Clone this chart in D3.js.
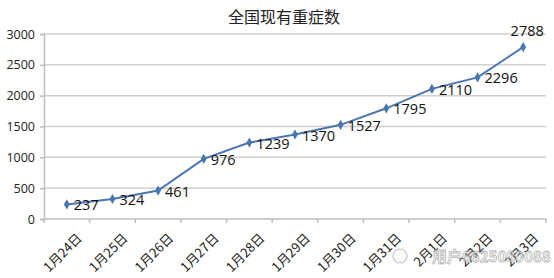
<!DOCTYPE html>
<html>
<head>
<meta charset="utf-8">
<script src="https://cdn.jsdelivr.net/npm/d3@7"></script>
<style>
  body { margin: 0; background: #fff; }
  svg { display: block; }
</style>
</head>
<body>
<div id="chart"></div>
<script>
var width = 554,
    height = 278;

var dates = ["1月24日","1月25日","1月26日","1月27日","1月28日","1月29日","1月30日","1月31日","2月1日","2月2日","2月3日"];
var severe = [237, 324, 461, 976, 1239, 1370, 1527, 1795, 2110, 2296, 2788];
var yTicks = [0, 500, 1000, 1500, 2000, 2500, 3000];

var margin = {top: 34, right: 8, bottom: 59, left: 44};

var svg = d3.select("#chart").append("svg")
    .attr("width", width)
    .attr("height", height);

var x = d3.scaleBand()
    .domain(dates)
    .range([margin.left, width - margin.right]);

var y = d3.scaleLinear()
    .domain([0, 3000])
    .range([height - margin.bottom, margin.top]);

// title
svg.append("text")
    .attr("x", 284)
    .attr("y", 23)
    .attr("text-anchor", "middle")
    .style("font-family", "'Noto Sans CJK SC', sans-serif")
    .style("font-size", "16px")
    .style("fill", "#222")
    .text("全国现有重症数");

// gridlines
svg.append("g")
  .selectAll("line")
  .data(yTicks.filter(d => d > 0))
  .enter().append("line")
    .attr("x1", margin.left)
    .attr("x2", width - margin.right)
    .attr("y1", d => y(d))
    .attr("y2", d => y(d))
    .style("stroke", "#cfcfcf")
    .style("stroke-width", 1.5);

// y axis
var yAxis = svg.append("g")
    .attr("transform", "translate(" + margin.left + ",0)")
    .call(d3.axisLeft(y).tickValues(yTicks).tickFormat(d3.format("d")).tickSize(4).tickPadding(5));
yAxis.selectAll("text")
    .style("font-family", "'Open Sans', 'DejaVu Sans', sans-serif")
    .style("font-size", "12.5px")
    .style("fill", "#222");
yAxis.selectAll("line, path").style("stroke", "#bdbdbd").style("stroke-width", 1.5);

// x axis, ticks at category boundaries
var xAxis = svg.append("g")
    .attr("transform", "translate(0," + y(0) + ")");
xAxis.append("line")
    .attr("x1", margin.left)
    .attr("x2", width - margin.right)
    .style("stroke", "#bdbdbd")
    .style("stroke-width", 1.5);
xAxis.selectAll(".tk")
  .data(dates.concat(["end"]))
  .enter().append("line")
    .attr("class", "tk")
    .attr("x1", (d, i) => margin.left + i * x.step())
    .attr("x2", (d, i) => margin.left + i * x.step())
    .attr("y1", 0)
    .attr("y2", 4)
    .style("stroke", "#bdbdbd")
    .style("stroke-width", 1.5);
xAxis.selectAll(".lbl")
  .data(dates)
  .enter().append("text")
    .attr("class", "lbl")
    .attr("text-anchor", "end")
    .attr("transform", d => "translate(" + (x(d) + x.bandwidth() / 2 + 16) + ",20) rotate(-45)")
    .style("font-family", "'Noto Sans CJK SC', sans-serif")
    .style("font-size", "13px")
    .style("fill", "#222")
    .text(d => d);

// line
var line = d3.line()
    .x((d, i) => x(dates[i]) + x.bandwidth() / 2)
    .y(d => y(d));

svg.append("path")
    .datum(severe)
    .attr("d", line)
    .attr("fill", "none")
    .attr("stroke", "#4a76b0")
    .attr("stroke-width", 2);

svg.selectAll(".pt")
  .data(severe)
  .enter().append("path")
    .attr("class", "pt")
    .attr("d", d3.symbol().type(d3.symbolDiamond).size(30))
    .attr("transform", (d, i) => "translate(" + (x(dates[i]) + x.bandwidth() / 2) + "," + y(d) + ")")
    .attr("fill", "#4a76b0");

// value labels
svg.selectAll(".val")
  .data(severe)
  .enter().append("text")
    .attr("class", "val")
    .attr("x", (d, i) => x(dates[i]) + x.bandwidth() / 2 + (i === severe.length - 1 ? 4 : 7))
    .attr("y", (d, i) => y(d) + (i === severe.length - 1 ? -11 : 6))
    .attr("text-anchor", (d, i) => i === severe.length - 1 ? "middle" : "start")
    .style("font-family", "'Open Sans', 'DejaVu Sans', sans-serif")
    .style("font-size", "14.5px")
    .style("fill", "#111")
    .text(d => d);

// watermark
svg.append("circle")
    .attr("cx", 400)
    .attr("cy", 256)
    .attr("r", 7)
    .attr("fill", "none")
    .attr("stroke", "#aaa")
    .attr("stroke-width", 1.2)
    .attr("opacity", 0.7);
svg.append("text")
    .attr("x", 432)
    .attr("y", 262)
    .style("font-family", "'Noto Sans CJK SC', sans-serif")
    .style("font-size", "15px")
    .style("font-weight", "bold")
    .style("fill", "#fff")
    .style("stroke", "#999")
    .style("stroke-width", 0.8)
    .style("opacity", 0.75)
    .text("用户6625080088");
</script>
</body>
</html>
